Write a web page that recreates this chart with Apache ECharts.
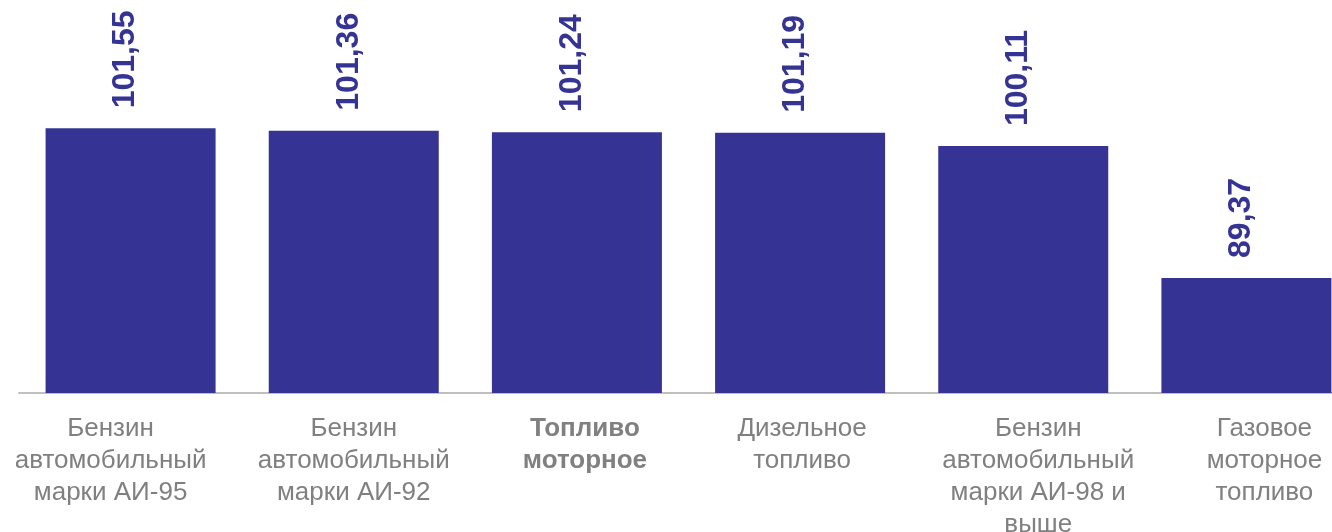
<!DOCTYPE html>
<html>
<head>
<meta charset="utf-8">
<script src="https://cdn.jsdelivr.net/npm/echarts@6/dist/echarts.min.js"></script>
<style>
	html, body {margin: 0; padding: 0; background: #fff;}
	#chart {width: 1332px; height: 532px;}
</style>
</head>
<body>
<div id="chart"></div>
<script>
	// categories (line breaks as in the original)
	var categories = [
		'Бензин\nавтомобильный\nмарки АИ-95',
		'Бензин\nавтомобильный\nмарки АИ-92',
		'Топливо\nмоторное',
		'Дизельное\nтопливо',
		'Бензин\nавтомобильный\nмарки АИ-98 и\nвыше',
		'Газовое\nмоторное\nтопливо'
	];
	var values = [101.55, 101.36, 101.24, 101.19, 100.11, 89.37];
	var boldCategory = 'Топливо\nмоторное';

	var barColor = '#353393';
	var labelGray = '#808080';
	// small horizontal nudges of the category labels, as laid out in the source
	var labelShift = [-20, 0, 8, 2, 15, 18];

	var axisData = categories.map(function (name, i) {
		var s = labelShift[i];
		var style = {
			padding: s >= 0 ? [0, 0, 0, s * 2] : [0, -s * 2, 0, 0]
		};
		if (name === boldCategory) style.fontWeight = 'bold';
		return {value: name, textStyle: style};
	});

	var chart = echarts.init(document.getElementById('chart'));
	var option = {
		animation: false,
		textStyle: {fontFamily: '"Liberation Sans", Arial, sans-serif'},
		// the plot runs past the right edge of the picture, like in the source
		grid: {left: 19, width: 1339, top: 0, bottom: 139, containLabel: false, outerBoundsMode: 'none'},
		xAxis: {
			type: 'category',
			data: axisData,
			axisLine: {show: true, lineStyle: {color: '#bfbfbf', width: 2}},
			axisTick: {show: false},
			axisLabel: {
				interval: 0,
				margin: 20,
				color: labelGray,
				fontSize: 26,
				lineHeight: 32,
				align: 'center',
				verticalAlign: 'top'
			}
		},
		yAxis: {
			type: 'value',
			min: 80,
			max: 112,
			show: false,
			splitLine: {show: false}
		},
		series: [{
			type: 'bar',
			data: values,
			barWidth: 170,
			itemStyle: {color: barColor},
			label: {
				show: true,
				position: 'top',
				rotate: 90,
				align: 'left',
				verticalAlign: 'middle',
				distance: 20,
				offset: [0, -5],
				color: barColor,
				fontSize: 32,
				fontWeight: 'bold',
				formatter: function (p) {
					return p.value.toFixed(2).replace('.', ',');
				}
			}
		}]
	};
	chart.setOption(option);
</script>
</body>
</html>
